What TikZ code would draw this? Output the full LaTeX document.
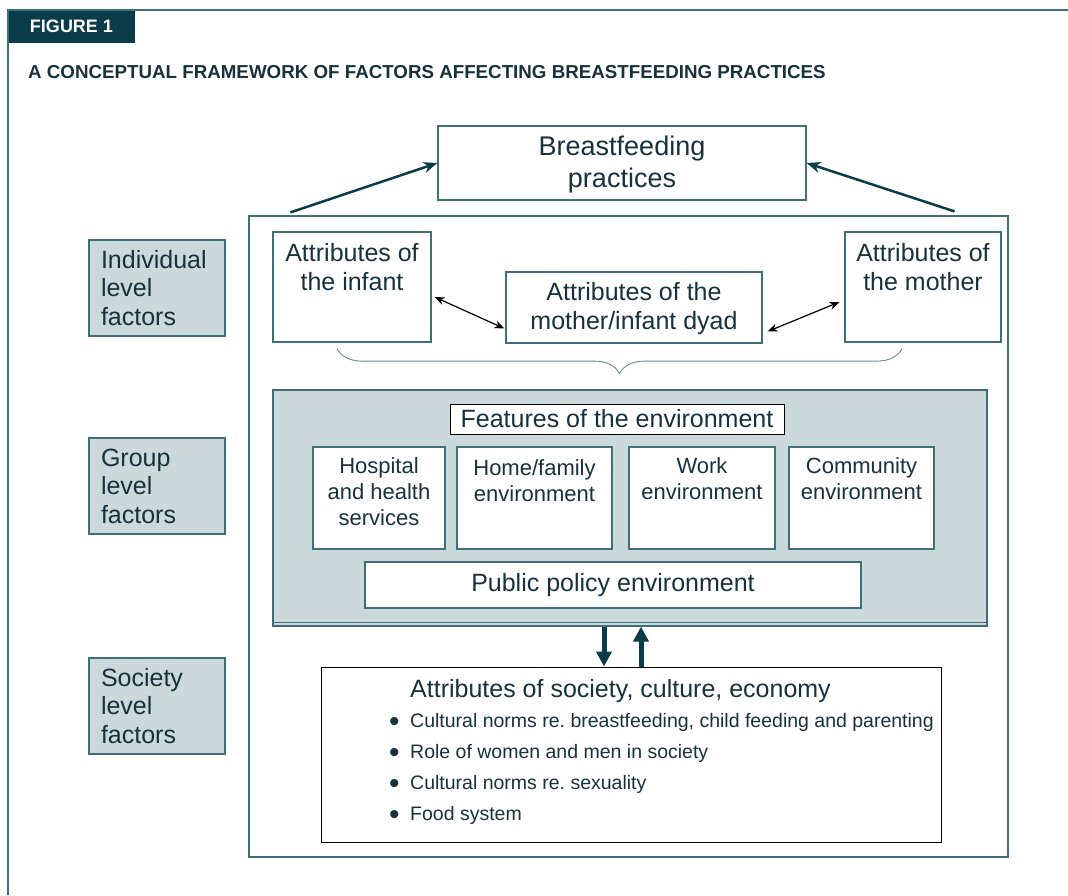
\documentclass[tikz,border=0pt]{standalone}
\usepackage{fontspec}
\setmainfont{Liberation Sans}
\usetikzlibrary{positioning,arrows.meta,decorations.pathreplacing}
\definecolor{hdr}{HTML}{0B3C49}
\definecolor{rim}{HTML}{3F6F78}
\definecolor{shade}{HTML}{CBD9DA}
\definecolor{ink}{HTML}{17323C}
\frenchspacing
\newcommand{\fL}{\fontsize{27}{32}\selectfont}
\newcommand{\fM}{\fontsize{25}{28.5}\selectfont}
\newcommand{\fS}{\fontsize{22}{26}\selectfont}
\newcommand{\fT}{\fontsize{19.5}{31}\selectfont}
\newcommand{\bul}{\makebox[21pt][l]{\raisebox{-4pt}{\fontsize{30}{30}\selectfont\textbullet}}}
\tikzset{
  box/.style={draw=rim, line width=1.2pt, fill=white, inner sep=0pt, align=center, text=ink},
  lvl/.style={box, fill=shade, minimum width=136pt, minimum height=96pt, text width=112pt, inner xsep=12pt, align=left, font=\fM},
  txt/.style={inner sep=0pt, align=center, text=ink}
}

\begin{document}
\begin{tikzpicture}[x=1pt,y=-1pt]
  \useasboundingbox (0,0) rectangle (1068,895);
  \node[fill=hdr, minimum width=127pt, minimum height=33pt, inner sep=0pt, text=white, font=\fontsize{18}{20}\bfseries\selectfont] (fig) at (71.5,26.5) {FIGURE 1};
  \draw[rim, line width=1.5pt] (8,895) -- (8,10) -- (1068,10);
  \node[anchor=west, inner sep=0pt, text=ink, font=\fontsize{18.75}{20}\bfseries\selectfont] (title) at (28,72) {A CONCEPTUAL FRAMEWORK OF FACTORS AFFECTING BREASTFEEDING PRACTICES};

  \node[box, fill=none, minimum width=759pt, minimum height=641pt] (frame) at (628.5,536.5) {};
  \node[box, minimum width=368pt, minimum height=74pt] (bp) at (622,163) {};
  \node[txt, font=\fL, below=10pt of bp.north] (bp-t) {Breastfeeding\\practices};
  \path[-{Stealth[length=14pt,width=11pt]}, hdr, line width=2.5pt]
    ([xshift=42pt,yshift=3pt]frame.north west) edge (bp.west)
    ([xshift=-54pt,yshift=4pt]frame.north east) edge (bp.east);

  \node[box, minimum width=158pt, minimum height=110pt] (inf) at (352,287) {};
  \node[txt, font=\fM, below=12pt of inf.north] (inf-t) {Attributes of\\the infant};
  \node[box, minimum width=156pt, minimum height=110pt] (moth) at (923,287) {};
  \node[txt, font=\fM, below=12pt of moth.north] (moth-t) {Attributes of\\the mother};
  \node[box, minimum width=256pt, minimum height=71pt] (dyad) at (634,307.5) {};
  \node[txt, font=\fM, below=11pt of dyad.north] (dyad-t) {Attributes of the\\mother/infant dyad};
  \path[{Stealth[length=10pt,width=8pt]}-{Stealth[length=10pt,width=8pt]}, line width=1.2pt]
    ([xshift=3pt,yshift=-10pt]inf.east) edge ([xshift=-1pt,yshift=-21pt]dyad.west)
    ([xshift=5pt,yshift=-24pt]dyad.east) edge ([xshift=-5pt,yshift=-15pt]moth.west);
  \draw[rim!80, line width=0.9pt, decorate, decoration={brace, mirror, amplitude=25pt}]
    ([xshift=-15pt,yshift=-6pt]inf.south) -- ([xshift=-21pt,yshift=-6pt]moth.south);

  \node[box, fill=shade, minimum width=714pt, minimum height=236pt] (panel) at (630,508) {};
  \draw[rim, line width=1.2pt] ([yshift=4pt]panel.south west) -- ([yshift=4pt]panel.south east);
  \node[box, draw=black, line width=1pt, minimum width=334pt, minimum height=30pt, font=\fM] (feat) at (617,419) {Features of the environment};
  \node[box, minimum width=132pt, minimum height=102pt] (hosp) at (379,498) {};
  \node[box, minimum width=155pt, minimum height=102pt] (home) at (534.5,498) {};
  \node[box, minimum width=146pt, minimum height=102pt] (work) at (702,498) {};
  \node[box, minimum width=145pt, minimum height=102pt] (comm) at (861.5,498) {};
  \node[txt, font=\fS, below=10.5pt of hosp.north] (hosp-t) {Hospital\\and health\\services};
  \node[txt, font=\fS, below=12.5pt of home.north] (home-t) {Home/family\\environment};
  \node[txt, font=\fS, below=10.5pt of work.north] (work-t) {Work\\environment};
  \node[txt, font=\fS, below=10.5pt of comm.north] (comm-t) {Community\\environment};
  \node[box, minimum width=496pt, minimum height=46pt, font=\fM] (pol) at (613,585) {Public policy environment};

  \node[box, draw=black, line width=1pt, minimum width=620pt, minimum height=175pt] (soc) at (631,754.5) {};
  \path[-{Triangle[length=15pt,width=15pt]}, hdr, line width=5pt]
    ([xshift=-26pt]panel.south) edge ([xshift=-27pt]soc.north)
    ([xshift=10pt]soc.north) edge ([xshift=11pt]panel.south);
  \node[txt, font=\fM, anchor=west] (soc-t) at (410,691) {Attributes of society, culture, economy};
  \node[txt, font=\fT, align=left, anchor=north west] (soc-l) at (389,713)
    {\bul Cultural norms re. breastfeeding, child feeding and parenting\\
     \bul Role of women and men in society\\
     \bul Cultural norms re. sexuality\\
     \bul Food system};

  \node[lvl] (ind) at (157,288) {Individual\\level\\factors};
  \node[lvl] (grp) at (157,486) {Group\\level\\factors};
  \node[lvl] (soclvl) at (157,706) {Society\\level\\factors};
\end{tikzpicture}
\end{document}
